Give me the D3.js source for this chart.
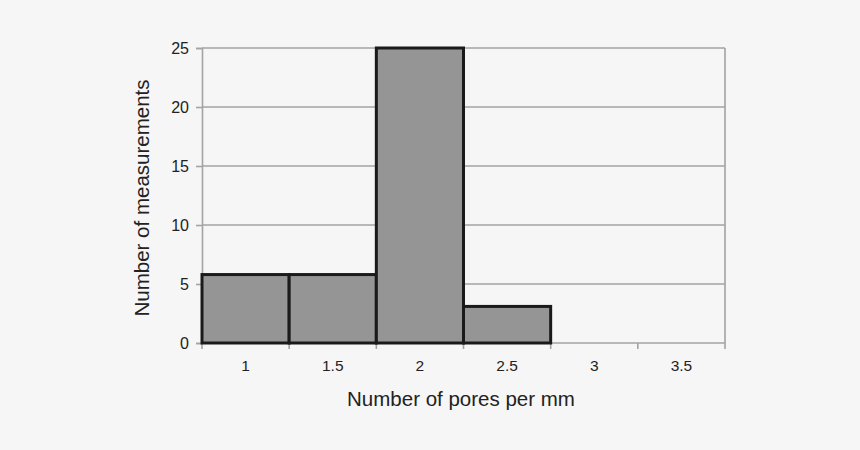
<!DOCTYPE html>
<meta charset="utf-8">
<html>
	<head>
		<script src="https://d3js.org/d3.v7.min.js"></script>
		<style>
			body { margin: 0; background: #f6f6f6; }
			text { font-family: "Liberation Sans", Arial, sans-serif; fill: #222; }
		</style>
	</head>
	<body>
		<div id="chart"></div>
		<script>
			// Data
			var categories = ["1", "1.5", "2", "2.5", "3", "3.5"];
			var counts = [5.8, 5.8, 25, 3.1, 0, 0];
			var yTicks = [0, 5, 10, 15, 20, 25];

			var margin = {top: 48, right: 135, bottom: 107, left: 202},
				width = 860 - margin.left - margin.right,
				height = 450 - margin.top - margin.bottom;

			var svg = d3.select("#chart").append("svg")
				.attr("width", 860)
				.attr("height", 450);

			svg.append("rect")
				.attr("width", 860).attr("height", 450)
				.attr("fill", "#f6f6f6");

			var chart = svg.append("g")
				.attr("transform", "translate(" + margin.left + "," + margin.top + ")");

			var x = d3.scaleBand()
				.domain(categories)
				.range([0, width])
				.padding(0);

			var y = d3.scaleLinear()
				.domain([0, 25])
				.range([height, 0]);

			// Gridlines
			chart.selectAll(".grid")
				.data(yTicks.slice(1))
				.enter().append("line")
				.attr("x1", 0).attr("x2", width)
				.attr("y1", function(d) { return y(d); })
				.attr("y2", function(d) { return y(d); })
				.attr("stroke", "#a3a3a3")
				.attr("stroke-width", 1.6);

			// Right border
			chart.append("line")
				.attr("x1", width).attr("x2", width)
				.attr("y1", 0).attr("y2", height)
				.attr("stroke", "#a3a3a3")
				.attr("stroke-width", 1.6);

			// Y axis
			var yAxis = chart.append("g")
				.call(d3.axisLeft(y).tickValues(yTicks).tickSize(6).tickPadding(7));
			yAxis.selectAll("line, path").attr("stroke", "#a3a3a3").attr("stroke-width", 1.6);
			yAxis.selectAll("text").style("font-size", "16px").attr("fill", "#222");

			// X axis: ticks at band edges, labels at band centres
			var edges = categories.map(function(c) { return x(c); }).concat([width]);
			var xAxis = chart.append("g")
				.attr("transform", "translate(0," + height + ")");
			xAxis.append("line")
				.attr("x1", 0).attr("x2", width)
				.attr("stroke", "#a3a3a3").attr("stroke-width", 1.6);
			xAxis.selectAll(".tick")
				.data(edges)
				.enter().append("line")
				.attr("x1", function(d) { return d; })
				.attr("x2", function(d) { return d; })
				.attr("y1", 0).attr("y2", 6)
				.attr("stroke", "#a3a3a3").attr("stroke-width", 1.6);
			xAxis.selectAll(".label")
				.data(categories)
				.enter().append("text")
				.attr("x", function(d) { return x(d) + x.bandwidth() / 2; })
				.attr("y", 28)
				.attr("text-anchor", "middle")
				.style("font-size", "15.5px")
				.text(function(d) { return d; });

			// Bars
			chart.selectAll(".bar")
				.data(categories.map(function(c, i) { return {key: c, value: counts[i]}; })
					.filter(function(d) { return d.value > 0; }))
				.enter().append("rect")
				.attr("x", function(d) { return x(d.key); })
				.attr("y", function(d) { return y(d.value); })
				.attr("width", x.bandwidth())
				.attr("height", function(d) { return height - y(d.value); })
				.attr("fill", "#959595")
				.attr("stroke", "#1a1a1a")
				.attr("stroke-width", 3);

			// Axis titles
			svg.append("text")
				.attr("x", 461)
				.attr("y", 406)
				.attr("text-anchor", "middle")
				.style("font-size", "20.5px")
				.text("Number of pores per mm");

			svg.append("text")
				.attr("transform", "translate(149,198) rotate(-90)")
				.attr("text-anchor", "middle")
				.style("font-size", "20.5px")
				.text("Number of measurements");
		</script>
	</body>
</html>
